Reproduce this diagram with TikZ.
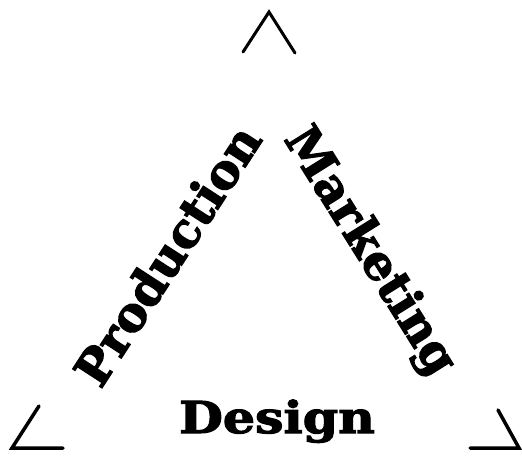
\documentclass[tikz,border=0pt]{standalone}
\usepackage{fontspec}
\setmainfont{DejaVu Serif}[BoldFeatures={FakeBold=2.5}]
\usetikzlibrary{calc}
\begin{document}
\begin{tikzpicture}[x=1pt,y=-1pt,
  word/.style={font=\fontsize{48}{48}\selectfont\bfseries,inner sep=0pt},
  corner/.style={line width=3.5pt,line cap=round,line join=miter}]
  \useasboundingbox (0,0) rectangle (522,462);

  % the three sides
  \node[word,anchor=base,font=\fontsize{44}{44}\selectfont\bfseries,xscale=1.15] (design) at (277,433) {Design};
  \node[word,rotate=57] (production) at (167,255) {Production};
  \node[word,rotate=-58] (marketing) at (369,252) {Marketing};

  % the three corners
  \coordinate (top) at (269,12);
  \coordinate (left) at (12,448);
  \coordinate (right) at (519,448);
  \draw[corner,line width=3pt] ($(top)+(-26,40)$) -- (top) -- ($(top)+(26,41)$);
  \draw[corner] ($(left)+(27,-42)$) -- (left) -- ($(left)+(51,0)$);
  \draw[corner] ($(right)+(-21,-38)$) -- (right) -- ($(right)+(-49,0)$);
\end{tikzpicture}
\end{document}
